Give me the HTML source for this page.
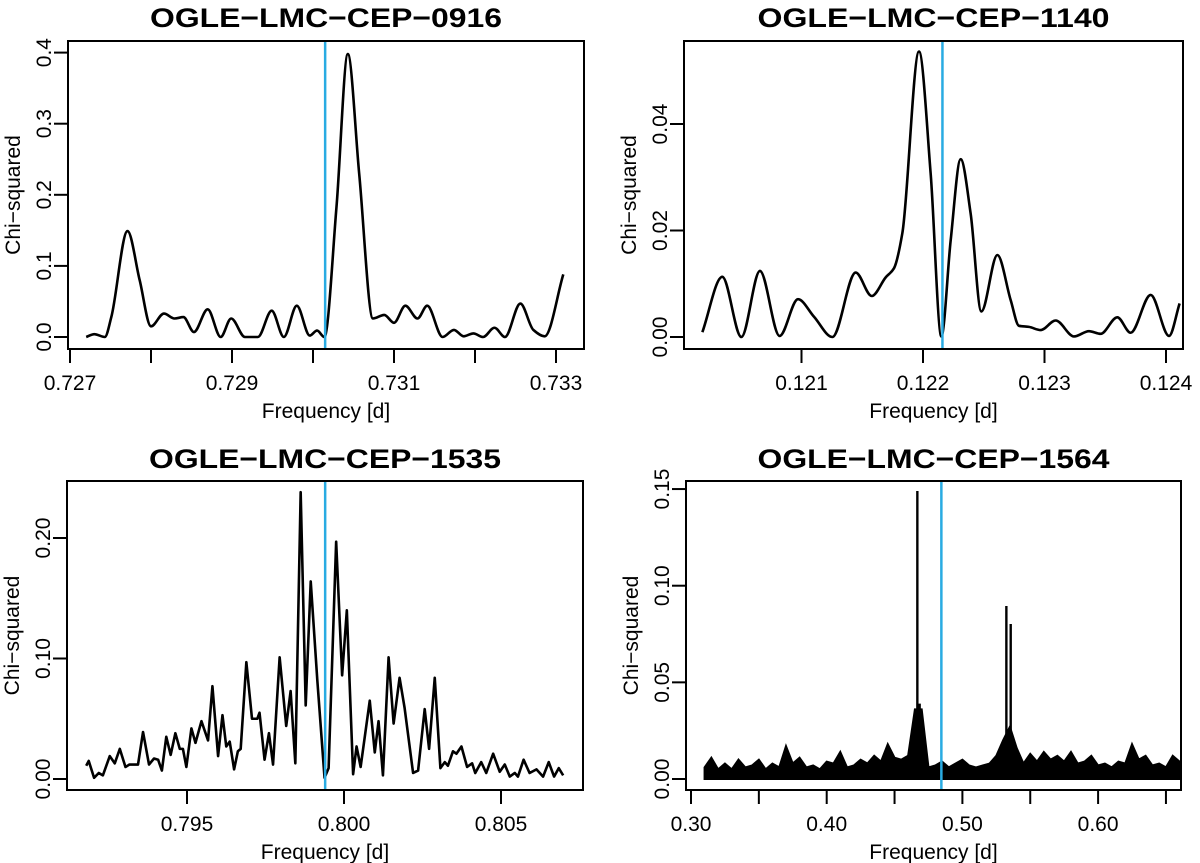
<!DOCTYPE html>
<html><head><meta charset="utf-8"><title>Chi-squared periodograms</title>
<style>
html,body{margin:0;padding:0;background:#fff;}
svg{display:block;font-family:"Liberation Sans",Arial,sans-serif;}
</style></head>
<body>
<svg id="chart" width="1200" height="863" viewBox="0 0 1200 863" xmlns="http://www.w3.org/2000/svg"></svg>
<script>
// ---- Panel 1: OGLE-LMC-CEP-0916 ----
const p1Freq = [.72720,.72730,.72743,.72751,.72771,.72786,.72800,.72816,.72829,.72840,.72853,.72870,.72886,.72899,.72916,.72932,.72949,.72964,.72980,.72996,.73005,.73014,.73029,.73043,.73057,.73074,.73088,.73100,.73114,.73129,.73141,.73160,.73174,.73186,.73198,.73210,.73224,.73237,.73256,.73272,.73286,.73309];
const p1Chi = [0,.004,0,.028,.149,.080,.015,.033,.026,.028,.007,.039,0,.026,0,0,.037,0,.044,.002,.009,0,.183,.398,.230,.026,.031,.020,.044,.026,.044,0,.010,.001,.005,0,.013,0,.047,.010,.001,.088];
const p1XTicks = [.727,.728,.729,.730,.731,.732,.733];
const p1XLabels = ["0.727","","0.729","","0.731","","0.733"];
const p1YTicks = [0,.1,.2,.3,.4];
const p1YLabels = ["0.0","0.1","0.2","0.3","0.4"];
const p1Period = .73015;

// ---- Panel 2: OGLE-LMC-CEP-1140 ----
const p2Freq = [.120184,.120348,.120505,.120658,.120820,.120971,.121103,.121254,.121446,.121578,.121693,.121761,.121830,.121967,.122063,.122151,.122228,.122310,.122392,.122480,.122612,.122722,.122790,.122872,.122968,.123092,.123243,.123366,.123462,.123599,.123709,.123874,.124025,.124112];
const p2Chi = [.0009,.0113,0,.0124,.0002,.0071,.0038,0,.0121,.0077,.0112,.0129,.0195,.0536,.0307,.0001,.0182,.0334,.0232,.0048,.0154,.0069,.0021,.0019,.0013,.0031,.0001,.0011,.0006,.0037,.0008,.0079,.0002,.0063];
const p2XTicks = [.121,.122,.123,.124];
const p2XLabels = ["0.121","0.122","0.123","0.124"];
const p2YTicks = [0,.02,.04];
const p2YLabels = ["0.00","0.02","0.04"];
const p2Period = .12216;

// ---- Panel 3: OGLE-LMC-CEP-1535 ----
const p3Freq = [.79179,.79187,.79204,.79219,.79232,.79254,.79270,.79286,.79304,.79317,.79344,.79360,.79379,.79395,.79408,.79420,.79434,.79448,.79463,.79477,.79487,.79498,.79514,.79527,.79546,.79567,.79581,.79599,.79613,.79625,.79636,.79650,.79662,.79671,.79689,.79707,.79724,.79731,.79747,.79761,.79774,.79795,.79816,.79830,.79845,.79862,.79878,.79894,.79915,.79938,.79951,.79975,.79994,.80009,.80029,.80040,.80053,.80082,.80098,.80110,.80124,.80142,.80158,.80177,.80193,.80220,.80236,.80257,.80271,.80289,.80307,.80321,.80331,.80347,.80358,.80374,.80392,.80408,.80418,.80437,.80453,.80475,.80496,.80512,.80528,.80544,.80554,.80572,.80591,.80613,.80634,.80652,.80669,.80684,.80698];
const p3Chi = [.011,.015,.001,.005,.003,.019,.013,.025,.010,.012,.012,.039,.012,.017,.016,.007,.035,.020,.038,.025,.025,.010,.042,.030,.048,.032,.077,.019,.053,.027,.031,.008,.023,.025,.097,.050,.050,.055,.016,.038,.012,.101,.044,.073,.013,.238,.061,.164,.082,.001,.009,.197,.086,.140,.004,.027,.010,.065,.022,.048,.003,.101,.046,.084,.059,.005,.007,.058,.025,.084,.009,.014,.011,.023,.021,.027,.010,.013,.005,.014,.005,.021,.006,.012,.002,.005,.002,.016,.005,.008,.002,.014,.002,.009,.003];
const p3XTicks = [.795,.800,.805];
const p3XLabels = ["0.795","0.800","0.805"];
const p3YTicks = [0,.1,.2];
const p3YLabels = ["0.00","0.10","0.20"];
const p3Period = .7994;

// ---- Panel 4: OGLE-LMC-CEP-1564 ----
const p4NoiseFreq = [.310,.315,.320,.325,.330,.335,.340,.345,.350,.355,.360,.365,.370,.375,.380,.385,.390,.395,.400,.405,.410,.415,.420,.425,.430,.435,.440,.445,.450,.455,.460,.465,.470,.475,.480,.485,.490,.495,.500,.505,.510,.515,.520,.525,.530,.535,.540,.545,.550,.555,.560,.565,.570,.575,.580,.585,.590,.595,.600,.605,.610,.615,.620,.625,.630,.635,.640,.645,.650,.655,.660];
const p4NoiseChi = [.006,.011,.005,.008,.005,.010,.006,.007,.010,.005,.008,.006,.017,.008,.011,.006,.007,.005,.009,.008,.014,.006,.007,.010,.008,.012,.009,.018,.011,.010,.012,.036,.036,.006,.007,.009,.006,.008,.010,.007,.006,.007,.008,.012,.020,.027,.016,.008,.013,.009,.014,.010,.012,.009,.014,.008,.009,.012,.007,.008,.006,.009,.008,.018,.010,.012,.007,.008,.006,.012,.009];
const p4SpikeFreq = [.4668,.4685,.5324,.5356];
const p4SpikeChi = [.149,.039,.0895,.0802];
const p4XTicks = [.30,.35,.40,.45,.50,.55,.60,.65];
const p4XLabels = ["0.30","","0.40","","0.50","","0.60",""];
const p4YTicks = [0,.05,.10,.15];
const p4YLabels = ["0.00","0.05","0.10","0.15"];
const p4Period = .4845;

const NS = "http://www.w3.org/2000/svg";
const svg = document.getElementById("chart");
function mk(tag, attrs, parent){
  const e = document.createElementNS(NS, tag);
  for (const k in attrs) e.setAttribute(k, attrs[k]);
  (parent||svg).appendChild(e);
  return e;
}
function monotonePath(xs, ys){
  const n = xs.length; if (n < 2) return "";
  const d = [], m = new Array(n);
  for (let i=0;i<n-1;i++) d.push((ys[i+1]-ys[i])/(xs[i+1]-xs[i]));
  m[0]=d[0]; m[n-1]=d[n-2];
  for (let i=1;i<n-1;i++){
    if (d[i-1]*d[i] <= 0) m[i]=0;
    else { const h0=xs[i]-xs[i-1], h1=xs[i+1]-xs[i];
      const w1=2*h1+h0, w2=h1+2*h0; m[i]=(w1+w2)/(w1/d[i-1]+w2/d[i]); }
  }
  let p = "M"+xs[0].toFixed(2)+","+ys[0].toFixed(2);
  for (let i=0;i<n-1;i++){
    const h=(xs[i+1]-xs[i])/3;
    p += " C"+(xs[i]+h).toFixed(2)+","+(ys[i]+m[i]*h).toFixed(2)+" "+(xs[i+1]-h).toFixed(2)+","+(ys[i+1]-m[i+1]*h).toFixed(2)+" "+xs[i+1].toFixed(2)+","+ys[i+1].toFixed(2);
  }
  return p;
}

function panel(cfg){
  const g = mk("g", {});
  
  
  const X = f => cfg.px0 + (f - cfg.f0) * cfg.kx;
  const Y = v => cfg.y0 - v * cfg.ky;
  const [L,T,R,B] = cfg.box;
  const title = mk("text", {x:(L+R)/2, y:cfg.titleY, "text-anchor":"middle", "font-size":"27", "font-weight":"bold", textLength:"352", lengthAdjust:"spacingAndGlyphs", fill:"#000"}, g);
  title.textContent = cfg.title;
  
  
  // series
  const sg = mk("g", {}, g);
  
  
  cfg.draw(sg, X, Y);
  // period line
  const pl = mk("line", {x1:X(cfg.period), x2:X(cfg.period), y1:T, y2:B, stroke:"#29abe2", "stroke-width":"2.5"}, g);
  
  
  // box
  const box = mk("rect", {x:L, y:T, width:R-L, height:B-T, fill:"none", stroke:"#000", "stroke-width":"2"}, g);
  
  
  // x axis
  const xa = mk("g", {}, g);
  
  
  cfg.xTicks.forEach((t,i)=>{
    const x = X(t);
    const tk = mk("line", {x1:x, x2:x, y1:B, y2:B+14, stroke:"#000", "stroke-width":"2"}, xa);
    
    
    if (cfg.xLabels[i]) {
      const tl = mk("text", {x:x, y:B+41, "text-anchor":"middle", "font-size":"21", fill:"#000"}, xa);
      tl.textContent = cfg.xLabels[i];
      
      
    }
  });
  const xt = mk("text", {x:(L+R)/2, y:B+69, "text-anchor":"middle", "font-size":"21", fill:"#000"}, xa);
  xt.textContent = "Frequency [d]";
  
  
  // y axis
  const ya = mk("g", {}, g);
  
  
  cfg.yTicks.forEach((t,i)=>{
    const y = Y(t);
    const tk = mk("line", {x1:L-14, x2:L, y1:y, y2:y, stroke:"#000", "stroke-width":"2"}, ya);
    
    
    const tl = mk("text", {x:L-17, y:y, "text-anchor":"middle", "font-size":"21", fill:"#000", transform:"rotate(-90 "+(L-17)+" "+y+")"}, ya);
    tl.textContent = cfg.yLabels[i];
    
    
  });
  const cy = (T+B)/2;
  const yt = mk("text", {x:L-48, y:cy, "text-anchor":"middle", "font-size":"21", fill:"#000", transform:"rotate(-90 "+(L-48)+" "+cy+")"}, ya);
  yt.textContent = "Chi\u2212squared";
  
  
}

function smoothDraw(freqs, vals){
  return function(sg, X, Y){
    const p = mk("path", {d: monotonePath(freqs.map(X), vals.map(Y)), fill:"none", stroke:"#000", "stroke-width":"2.6", "stroke-linejoin":"round"}, sg);
    
    
  };
}

panel({name:"panel-cep-0916", title:"OGLE\u2212LMC\u2212CEP\u22120916", titleY:27, box:[68,41,584,349],
  f0:.727, px0:70, kx:81000, y0:337, ky:711,
  xTicks:p1XTicks, xLabels:p1XLabels, yTicks:p1YTicks, yLabels:p1YLabels, period:p1Period,
  draw: smoothDraw(p1Freq, p1Chi)});

panel({name:"panel-cep-1140", title:"OGLE\u2212LMC\u2212CEP\u22121140", titleY:27, box:[684,41,1183,349],
  f0:.122, px0:923, kx:121500, y0:337, ky:5325,
  xTicks:p2XTicks, xLabels:p2XLabels, yTicks:p2YTicks, yLabels:p2YLabels, period:p2Period,
  draw: smoothDraw(p2Freq, p2Chi)});

panel({name:"panel-cep-1535", title:"OGLE\u2212LMC\u2212CEP\u22121535", titleY:468, box:[67,481,583,790],
  f0:.795, px0:187, kx:31400, y0:779, ky:1205,
  xTicks:p3XTicks, xLabels:p3XLabels, yTicks:p3YTicks, yLabels:p3YLabels, period:p3Period,
  draw: function(sg, X, Y){
    const pts = p3Freq.map((f,i)=>X(f).toFixed(2)+","+Y(p3Chi[i]).toFixed(2)).join(" ");
    const p = mk("polyline", {points:pts, fill:"none", stroke:"#000", "stroke-width":"2.6", "stroke-linejoin":"round"}, sg);
    
    
  }});

panel({name:"panel-cep-1564", title:"OGLE\u2212LMC\u2212CEP\u22121564", titleY:468, box:[686,481,1181,790],
  f0:.30, px0:691, kx:1357, y0:779, ky:1933,
  xTicks:p4XTicks, xLabels:p4XLabels, yTicks:p4YTicks, yLabels:p4YLabels, period:p4Period,
  draw: function(sg, X, Y){
    let pts = X(p4NoiseFreq[0]).toFixed(2)+","+Y(0)+" ";
    p4NoiseFreq.forEach((f,i)=>{ pts += X(f).toFixed(2)+","+Y(p4NoiseChi[i]).toFixed(2)+" "; });
    pts += X(p4NoiseFreq[p4NoiseFreq.length-1]).toFixed(2)+","+Y(0);
    const poly = mk("polygon", {points:pts, fill:"#000", stroke:"#000", "stroke-width":"2", "stroke-linejoin":"miter"}, sg);
    
    
    p4SpikeFreq.forEach((f,i)=>{
      const l = mk("line", {x1:X(f), x2:X(f), y1:Y(0), y2:Y(p4SpikeChi[i]), stroke:"#000", "stroke-width":"2.4"}, sg);
      
      
    });
  }});
</script>
</body></html>
